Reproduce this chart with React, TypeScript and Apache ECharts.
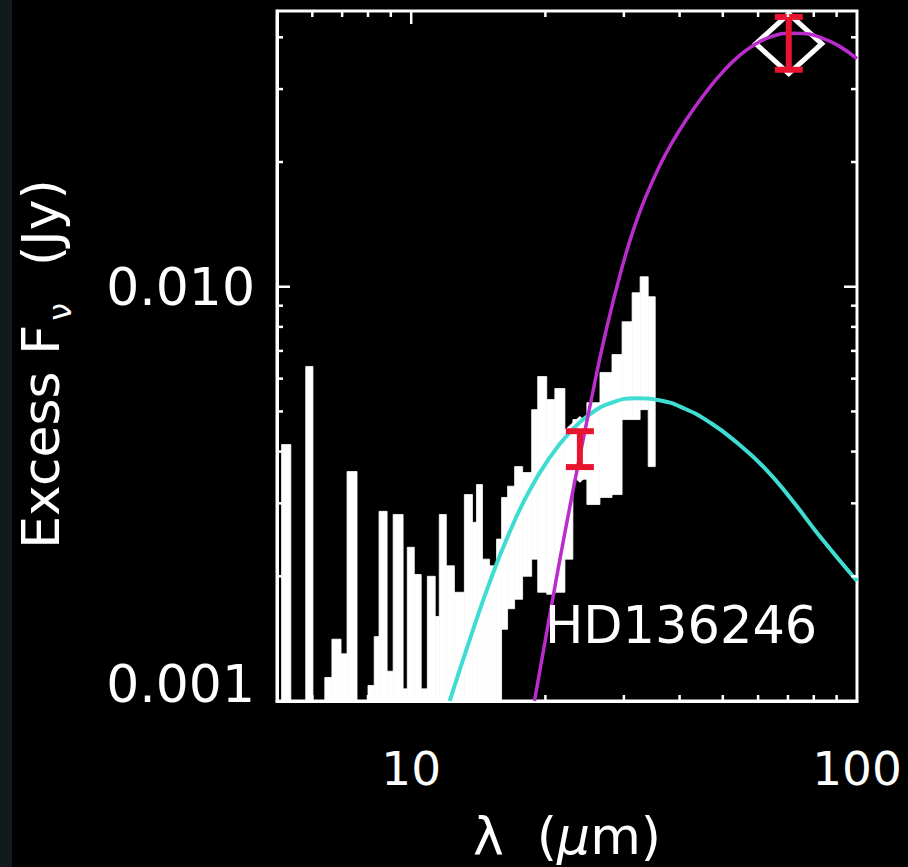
import React, { useEffect, useRef } from "react";
import * as echarts from "echarts";

// ---------- axis ranges & ticks ----------
const xRange = [5, 100];
const yRange = [0.001, 0.0463];
const xLabelValues = [10, 100];
const xTickLabels = ["10", "100"];
const yLabelValues = [0.001, 0.01];
const yTickLabels = ["0.001", "0.010"];
const xMajorTicks = [10];
const xMinorTicks = [6, 7, 8, 9, 20, 30, 40, 50, 60, 70, 80, 90];
const yMajorTicks = [0.01];
const yMinorTicks = [0.002, 0.003, 0.004, 0.005, 0.006, 0.007, 0.008, 0.009, 0.02, 0.03, 0.04];

// ---------- IRS spectrum (bin edges in micron, upper / lower flux of each bin, Jy) ----------
const specEdges = [
  5.12, 5.37, 5.8, 6.02, 6.4, 6.64, 6.96, 7.18, 7.56, 8.0, 8.26, 8.47, 8.83, 9.11, 9.59, 9.8,
  10.16, 10.53, 10.87, 11.32, 11.56, 11.99, 12.5, 13.16, 13.72, 14.01, 14.45, 14.99, 15.54,
  15.95, 16.45, 17.06, 17.78, 18.63, 19.22, 20.14, 21.0, 22.12, 23.05, 24.78, 26.51, 28.21,
  29.72, 31.3, 32.62, 34.01, 35.27,
];
const specHi = [
  0.00416, null, 0.00642, null, 0.00114, 0.00141, 0.0013, 0.00358, null, 0.00109, 0.00143,
  0.00287, 0.00118, 0.00282, 0.00107, 0.00235, 0.00202, 0.00107, 0.002, 0.0016, 0.00282,
  0.00212, 0.00183, 0.00315, 0.0027, 0.00333, 0.0022, 0.00212, 0.00246, 0.0031, 0.0033,
  0.00368, 0.00356, 0.00505, 0.00607, 0.00534, 0.00568, 0.00452, 0.00478, 0.00525, 0.00621,
  0.00686, 0.00823, 0.00967, 0.01057, 0.00946,
];
const specLo = [
  0.0008, 0.0008, 0.0008, 0.0008, 0.0008, 0.0008, 0.0008, 0.0008, 0.0008, 0.0008, 0.0008,
  0.0008, 0.0008, 0.0008, 0.0008, 0.0008, 0.0008, 0.0008, 0.0008, 0.0008, 0.0008, 0.0008,
  0.0008, 0.0008, 0.0008, 0.0008, 0.0008, 0.0008, 0.0008, 0.00149, 0.00167, 0.00176, 0.002,
  0.0022, 0.00183, 0.00181, 0.00183, 0.0022, 0.00343, 0.00298, 0.0031, 0.00315, 0.00478,
  0.00478, 0.00505, 0.00368,
];

// ---------- model curves ----------
const cyanLam = [12.2, 13.5, 15.0, 16.6, 18.4, 20.5, 22.5, 25.0, 28.0, 32.0, 36.0, 41.0, 47.0, 54.0, 62.0, 71.0, 82.0, 100];
const cyanF = [0.001, 0.001396, 0.001936, 0.002547, 0.003214, 0.003882, 0.004406, 0.004898, 0.005236, 0.005383, 0.005321, 0.005082, 0.004688, 0.004188, 0.003656, 0.003083, 0.002521, 0.001948];
const magLam = [18.9, 20.8, 22.7, 25.2, 27.5, 29.9, 31.6, 33.5, 36.0, 38.1, 41.5, 45.7, 50.0, 54.8, 59.5, 64.0, 70.0, 76.0, 83.0, 91.0, 100];
const magF = [0.001, 0.00178, 0.00295, 0.00518, 0.00802, 0.0114, 0.01384, 0.01638, 0.01948, 0.02187, 0.0254, 0.02936, 0.033, 0.03633, 0.03864, 0.04009, 0.04089, 0.04083, 0.03993, 0.03814, 0.03553];

// ---------- photometry ----------
const photLam = [23.9, 70.3];
const photF = [0.00405, 0.0386];
const photLo = [0.00367, 0.0334];
const photHi = [0.00448, 0.0448];

const FONT = "DejaVu Sans";

function isPow10(v: number) {
  const l = Math.log10(v);
  return Math.abs(l - Math.round(l)) < 1e-6;
}

export default function App() {
  const ref = useRef<HTMLDivElement>(null);
  useEffect(() => {
    if (!ref.current) return;
    const chart = echarts.init(ref.current, null, { renderer: "svg" });

    const specData: number[][] = [];
    for (let i = 0; i < specHi.length; i++) {
      if (specHi[i] == null) continue;
      specData.push([specEdges[i], specEdges[i + 1], specLo[i], specHi[i] as number]);
    }
    const tickData: number[][] = [];
    xMajorTicks.forEach((v) => tickData.push([v, yRange[0], 1, 1]));
    xMinorTicks.forEach((v) => tickData.push([v, yRange[0], 1, 0]));
    yMajorTicks.forEach((v) => tickData.push([xRange[0], v, 0, 1]));
    yMinorTicks.forEach((v) => tickData.push([xRange[0], v, 0, 0]));

    const white = "#ffffff";
    const red = "#e8142f";

    const option: any = {
      animation: false,
      backgroundColor: "#000000",
      grid: {
        left: 277,
        right: 51,
        top: 11,
        bottom: 165,
        show: true,
        borderColor: white,
        borderWidth: 3,
        backgroundColor: "transparent",
      },
      xAxis: {
        type: "log",
        logBase: 10,
        min: xRange[0],
        max: xRange[1],
        splitLine: { show: false },
        axisTick: { show: false },
        axisLine: { show: true, lineStyle: { color: white, width: 3 } },
        axisLabel: {
          color: white,
          fontFamily: FONT,
          fontSize: 47,
          margin: 44,
          formatter: (v: number) => {
            const i = xLabelValues.findIndex((t) => Math.abs(t - v) / t < 1e-6);
            return i >= 0 ? xTickLabels[i] : "";
          },
        },
        name: "{a|λ  (}{b|μ}{a|m)}",
        nameLocation: "middle",
        nameGap: 109,
        nameTextStyle: {
          color: white,
          fontFamily: FONT,
          fontSize: 52,
          rich: {
            a: { color: white, fontFamily: FONT, fontSize: 52 },
            b: { color: white, fontFamily: FONT, fontSize: 52, fontStyle: "italic" },
          },
        },
      },
      yAxis: {
        type: "log",
        logBase: 10,
        min: yRange[0],
        max: yRange[1],
        splitLine: { show: false },
        axisTick: { show: false },
        axisLine: { show: true, lineStyle: { color: white, width: 3 } },
        axisLabel: {
          color: white,
          fontFamily: FONT,
          fontSize: 52,
          margin: 22,
          formatter: (v: number) => {
            if (!isPow10(v)) return "";
            const i = yLabelValues.findIndex((t) => Math.abs(t - v) / t < 1e-6);
            if (i < 0) return "";
            return i === 0 ? "{lo|" + yTickLabels[i] + "}" : yTickLabels[i];
          },
          rich: {
            lo: { color: white, fontFamily: FONT, fontSize: 52, padding: [0, 0, 34, 0] },
          },
        },
        name: "{a|Excess F}{s|ν}{a|  (Jy)}",
        nameLocation: "middle",
        nameGap: 201,
        nameRotate: 90,
        nameTextStyle: {
          color: white,
          fontFamily: FONT,
          fontSize: 52,
          padding: [0, 16, 0, 0],
          rich: {
            a: { color: white, fontFamily: FONT, fontSize: 52, lineHeight: 70, verticalAlign: "middle" },
            s: { color: white, fontFamily: FONT, fontSize: 32, lineHeight: 30, verticalAlign: "bottom", padding: [0, 4, 0, 4] },
          },
        },
      },
      graphic: [
        { type: "rect", left: 0, top: 0, shape: { width: 12, height: 867 }, style: { fill: "#121a1d" }, z: 0 },
        {
          type: "text",
          x: 545,
          y: 625,
          style: {
            text: "HD136246",
            fill: white,
            font: "51px 'DejaVu Sans'",
            textVerticalAlign: "middle",
            textAlign: "left",
          },
          z: 10,
        },
      ],
      series: [
        {
          type: "custom",
          name: "spectrum",
          z: 2,
          data: specData,
          renderItem: (params: any, api: any) => {
            const lo = Math.max(api.value(2), yRange[0]);
            const p0 = api.coord([api.value(0), api.value(3)]);
            const p1 = api.coord([api.value(1), lo]);
            return {
              type: "rect",
              shape: { x: p0[0], y: p0[1], width: p1[0] - p0[0], height: p1[1] - p0[1] },
              style: { fill: white, stroke: white, lineWidth: 0.8 },
            };
          },
        },
        {
          type: "scatter",
          name: "photometry",
          z: 3,
          symbol: "diamond",
          symbolSize: [66, 60],
          itemStyle: { color: "rgba(0,0,0,0)", borderColor: white, borderWidth: 5, opacity: 1 },
          data: photLam.map((l, i) => [l, photF[i]]),
        },
        {
          type: "line",
          name: "cool",
          z: 4,
          smooth: 0.5,
          showSymbol: false,
          lineStyle: { color: "#3fdcd2", width: 4 },
          data: cyanLam.map((l, i) => [l, cyanF[i]]),
        },
        {
          type: "line",
          name: "cold",
          z: 4,
          smooth: 0.5,
          showSymbol: false,
          lineStyle: { color: "#bb2ccc", width: 3.5 },
          data: magLam.map((l, i) => [l, magF[i]]),
        },
        {
          type: "custom",
          name: "errors",
          z: 5,
          data: photLam.map((l, i) => [l, photLo[i], photHi[i]]),
          renderItem: (params: any, api: any) => {
            const t = api.coord([api.value(0), api.value(2)]);
            const b = api.coord([api.value(0), api.value(1)]);
            const w = 14;
            const st = { stroke: red, lineWidth: 6 };
            return {
              type: "group",
              children: [
                { type: "line", shape: { x1: t[0], y1: t[1], x2: b[0], y2: b[1] }, style: st },
                { type: "line", shape: { x1: t[0] - w, y1: t[1], x2: t[0] + w, y2: t[1] }, style: st },
                { type: "line", shape: { x1: b[0] - w, y1: b[1], x2: b[0] + w, y2: b[1] }, style: st },
              ],
            };
          },
        },
        {
          type: "custom",
          name: "ticks",
          z: 6,
          data: tickData,
          renderItem: (params: any, api: any) => {
            const cs = params.coordSys;
            const p = api.coord([api.value(0), api.value(1)]);
            const len = api.value(3) ? 13 : 6;
            const st = { stroke: white, lineWidth: 2.5 };
            if (api.value(2) === 1) {
              const yb = cs.y + cs.height;
              return {
                type: "group",
                children: [
                  { type: "line", shape: { x1: p[0], y1: yb, x2: p[0], y2: yb - len }, style: st },
                  { type: "line", shape: { x1: p[0], y1: cs.y, x2: p[0], y2: cs.y + len }, style: st },
                ],
              };
            }
            const xr = cs.x + cs.width;
            return {
              type: "group",
              children: [
                { type: "line", shape: { x1: cs.x, y1: p[1], x2: cs.x + len, y2: p[1] }, style: st },
                { type: "line", shape: { x1: xr, y1: p[1], x2: xr - len, y2: p[1] }, style: st },
              ],
            };
          },
        },
      ],
    };
    chart.setOption(option);
    return () => chart.dispose();
  }, []);
  return (
    <div
      ref={ref}
      style={{ position: "fixed", left: 0, top: 0, width: 908, height: 867, background: "#000" }}
    />
  );
}
